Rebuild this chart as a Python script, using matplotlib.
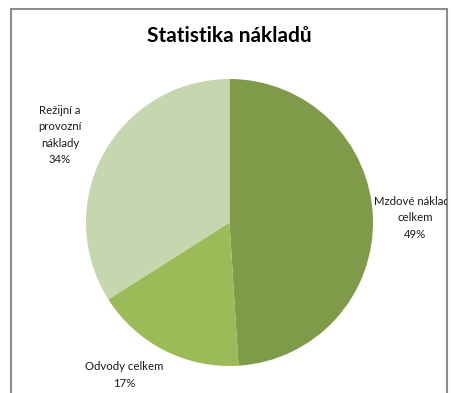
import matplotlib
matplotlib.use("Agg")
import matplotlib.pyplot as plt
from matplotlib.patches import Rectangle

labels = ["Mzdové náklady\ncelkem", "Odvody celkem", "Režijní a\nprovozní\nnáklady"]
shares = [49, 17, 34]
colors = ["#7f9b4a", "#9bbb59", "#c6d6ae"]

W, H = 455, 393
fig = plt.figure(figsize=(W / 100, H / 100), dpi=100)
fig.patch.set_facecolor("white")

# chart area frame (bottom edge runs off the image)
frame = Rectangle((11 / W, -0.05), (447 - 11) / W, 1 - 9 / H + 0.05,
                  transform=fig.transFigure, fill=False,
                  edgecolor="#8c8c8c", linewidth=1.5)
fig.patches.append(frame)

fig.text(229 / W, 1 - 36 / H, "Statistika nákladů", ha="center", va="center",
         fontsize=15, fontweight="bold", family="Lato")

R = 143.5
cx, cy = 229.5, 222.5
ax = fig.add_axes([(cx - R) / W, 1 - (cy + R) / H, 2 * R / W, 2 * R / H])
ax.pie(shares, colors=colors, startangle=90, counterclock=False, radius=1,
       wedgeprops=dict(linewidth=0))
ax.set_xlim(-1, 1)
ax.set_ylim(-1, 1)
ax.set_aspect("equal")
ax.axis("off")

# data labels placed around the pie
label_pos = [(415, 218), (124, 375), (60, 135)]
for (px, py), name, v in zip(label_pos, labels, shares):
    t = fig.text(px / W, 1 - py / H, f"{name}\n{v}%", ha="center", va="center",
                 fontsize=8.2, family="Lato", linespacing=1.6, color="#1a1a1a")
    t.set_clip_path(Rectangle((11 / W, -0.05), (447 - 11) / W, 1.0,
                              transform=fig.transFigure))

fig.savefig("out.png", dpi=100)
